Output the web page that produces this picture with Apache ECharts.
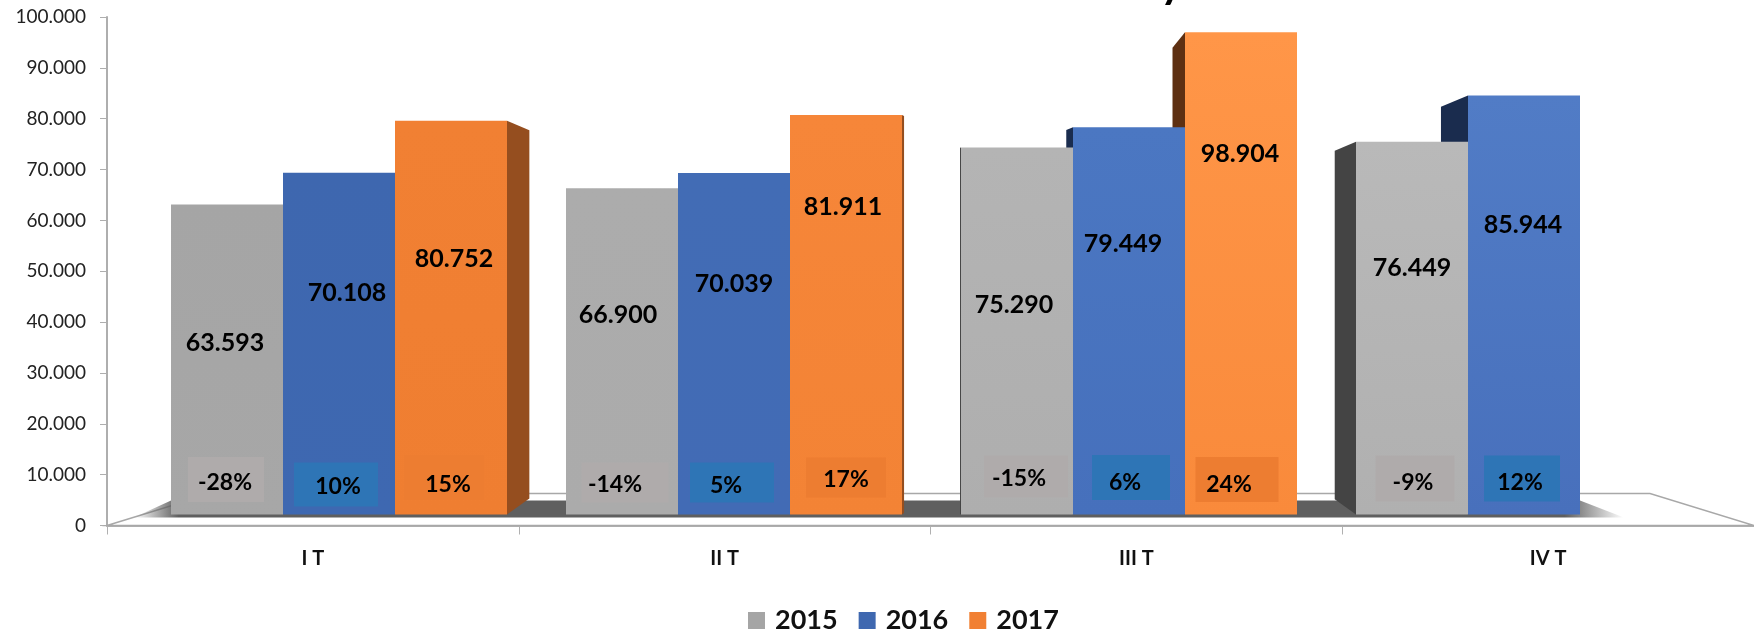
<!DOCTYPE html>
<html>
<head>
<meta charset="utf-8">
<title>Chart</title>
<style>
    html, body { margin: 0; padding: 0; background: #fff; }
    #chart { width: 1754px; height: 638px; }
</style>
<script src="https://cdn.jsdelivr.net/npm/echarts@6/dist/echarts.min.js"></script>
</head>
<body>
<div id="chart"></div>
<script>
var quarters = ['I T', 'II T', 'III T', 'IV T'];
var years = ['2015', '2016', '2017'];
var values2015 = [63593, 66900, 75290, 76449];
var values2016 = [70108, 70039, 79449, 85944];
var values2017 = [80752, 81911, 98904, null];
var pct2015 = ['-28%', '-14%', '-15%', '-9%'];
var pct2016 = ['10%', '5%', '6%', '12%'];
var pct2017 = ['15%', '17%', '24%', null];
var yTicks = { min: 0, max: 100000, step: 10000 };

//colori: ogni trimestre e' un po' piu' chiaro del precedente
var legendColors = ['#A5A5A5', '#3F68B0', '#F18033'];
var topColors = [
    ['#A5A5A5', '#ACACAC', '#B4B4B4', '#B9B9B9'],
    ['#3E67AF', '#426CB5', '#4B77C2', '#517CC6'],
    ['#F18033', '#F68639', '#FF9648']
];
var bottomColors = [
    ['#A7A7A7', '#ABABAB', '#AEAEAE', '#B0B0B0'],
    ['#3E68B1', '#426BB5', '#4670BC', '#4870BC'],
    ['#EF7E31', '#F38335', '#F98A3B']
];
var leftSideColors = ['#444444', '#1A2C4E', '#5E3012'];
var rightSideColors = ['#6B6B6B', '#2A4478', '#954E1F'];
var boxColors = ['#AFABAB', '#2E75B6', '#ED7D31'];

//spostamento delle etichette rispetto al centro della barra [x, y]
var valueShift = [
    [[-2, -17], [-4, -37], [-3, -26], [0, -60]],
    [[8, -51], [0, -60], [-6, -77], [-1, -80]],
    [[3, -59], [-3, -108], [-1, -119]]
];
//riquadri percentuali [cx, alzo, larghezza, altezza, testo x, testo alzo]
var pctBoxes = [
    [[-1, 35, 76, 45, -2, 32], [3, 32, 87, 40, -7, 30], [9, 38, 84, 42, 2, 36], [3, 36, 79, 46, 1, 32]],
    [[-3, 30, 84, 44, -1, 28], [-2, 32, 84, 40, -8, 29], [2, 37, 78, 45, -4, 32], [-2, 36, 76, 46, -4, 32]],
    [[-7, 37, 80, 45, -3, 30], [0, 37, 80, 40, 0, 35], [-4, 35, 83, 45, -12, 30]]
];

var fontName = 'Lato';
var barWidth = 112;
var vanishX = 942; //punto di fuga delle facce laterali
var depth = 0.0514;

function formatThousands(v) {
    return String(v).replace(/\B(?=(\d{3})+$)/g, '.');
}

function barSeries(idx, values) {
    return {
        name: years[idx],
        type: 'bar',
        xAxisIndex: 1,
        yAxisIndex: 1,
        barWidth: barWidth,
        barGap: 0,
        z: 4,
        itemStyle: { color: legendColors[idx] },
        data: values.map(function(v, i) {
            return {
                value: v,
                itemStyle: {
                    color: new echarts.graphic.LinearGradient(0, 0, 0, 1, [
                        { offset: 0, color: topColors[idx][i] },
                        { offset: 1, color: bottomColors[idx][i] }
                    ])
                },
                label: { offset: valueShift[idx][i] || [0, 0] }
            };
        }),
        label: {
            show: true,
            position: 'inside',
            color: '#000',
            fontFamily: fontName,
            fontWeight: 'bold',
            fontSize: 25,
            formatter: function(p) {
                return formatThousands(p.value);
            }
        }
    };
}

//piano di appoggio con la sua ombra
function renderFloor(params, api) {
    var c = params.coordSys;
    var left = c.x, right = c.x + c.width, bottom = c.y + c.height;
    var back = bottom - 32;
    return {
        type: 'group',
        children: [{
            type: 'polygon',
            shape: { points: [[left, bottom], [left + 104, back], [right - 104, back], [right, bottom]] },
            style: { fill: '#fff', stroke: '#A8A8A8', lineWidth: 1.5 }
        }, {
            type: 'polygon',
            shape: { points: [[left + 27, bottom - 8], [left + 64, back + 7], [right - 174, back + 7], [right - 130, bottom - 8]] },
            style: {
                fill: new echarts.graphic.LinearGradient(0, 0, 1, 0, [
                    { offset: 0, color: 'rgba(95,95,95,0)' },
                    { offset: 0.03, color: '#5F5F5F' },
                    { offset: 0.96, color: '#5F5F5F' },
                    { offset: 1, color: 'rgba(95,95,95,0)' }
                ])
            }
        }]
    };
}

//facce laterali in prospettiva
function renderSide(params, api) {
    var cat = api.value(0), val = api.value(1), s = api.value(2);
    var top = api.coord([cat, val]);
    var base = api.coord([cat, 0]);
    var center = top[0] + (s - 1) * barWidth;
    var isRight = center < vanishX;
    var x0 = center + (isRight ? 0.5 : -0.5) * barWidth;
    var dx = depth * (vanishX - x0);
    var adx = Math.abs(dx);
    //la barra piu' alta ha la faccia piu' inclinata
    var topRatio = top[1] < 60 ? 1.25 : 0.42;
    return {
        type: 'polygon',
        shape: { points: [
            [x0, top[1]],
            [x0 + dx, top[1] + adx * topRatio],
            [x0 + dx, base[1] - adx * 0.72],
            [x0, base[1]]
        ] },
        style: { fill: isRight ? rightSideColors[s] : leftSideColors[s] }
    };
}

//riquadri con la variazione percentuale
function renderPct(params, api) {
    var cat = api.value(0), s = api.value(1);
    var base = api.coord([cat, 0]);
    var center = base[0] + (s - 1) * barWidth;
    var b = pctBoxes[s][cat];
    var text = [pct2015, pct2016, pct2017][s][cat];
    return {
        type: 'group',
        children: [{
            type: 'rect',
            shape: { x: center + b[0] - b[2] / 2, y: base[1] - b[1] - b[3] / 2, width: b[2], height: b[3] },
            style: { fill: boxColors[s] }
        }, {
            type: 'text',
            style: {
                x: center + b[4],
                y: base[1] - b[5],
                text: text,
                align: 'center',
                verticalAlign: 'middle',
                fill: '#000',
                font: 'bold 23px ' + fontName
            }
        }]
    };
}

var sideData = [], pctData = [];
[values2015, values2016, values2017].forEach(function(list, s) {
    list.forEach(function(v, i) {
        if (v !== null) {
            sideData.push([i, v, s]);
            pctData.push([i, s]);
        }
    });
});

var myChart = echarts.init(document.getElementById('chart'), null, { renderer: 'canvas' });

var option = {
    animation: false,
    backgroundColor: '#fff',
    textStyle: { fontFamily: fontName },
    title: {
        text: 'y',
        left: 1160,
        top: -38,
        padding: 0,
        textStyle: { fontFamily: fontName, fontWeight: 'bold', fontSize: 44, color: '#000' }
    },
    legend: {
        left: 748,
        top: 607,
        padding: 0,
        itemWidth: 17,
        itemHeight: 17,
        itemGap: 21,
        icon: 'rect',
        selectedMode: false,
        data: years,
        textStyle: { fontFamily: fontName, fontWeight: 'bold', fontSize: 27, color: '#111', padding: [0, 0, 0, 5] }
    },
    grid: [
        { left: 107, top: 17, width: 1647, height: 508.5 },
        { left: 141.5, top: 26.9, width: 1580, height: 487.7 }
    ],
    xAxis: [{
        type: 'category',
        gridIndex: 0,
        data: quarters,
        axisLine: { lineStyle: { color: '#B0B0B0', width: 2 } },
        axisTick: { show: true, length: 9, lineStyle: { color: '#B0B0B0', width: 1 } },
        axisLabel: { margin: 23, color: '#111', fontFamily: fontName, fontWeight: 'bold', fontSize: 20 }
    }, {
        type: 'category',
        gridIndex: 1,
        data: quarters,
        show: false
    }],
    yAxis: [{
        type: 'value',
        gridIndex: 0,
        min: yTicks.min,
        max: yTicks.max,
        interval: yTicks.step,
        splitLine: { show: false },
        axisLine: { show: true, lineStyle: { color: '#AEAEAE', width: 2 } },
        axisTick: { show: true, length: 7, lineStyle: { color: '#AEAEAE', width: 1 } },
        axisLabel: {
            margin: 21,
            color: '#222',
            fontFamily: fontName,
            fontSize: 19,
            formatter: formatThousands
        }
    }, {
        type: 'value',
        gridIndex: 1,
        min: yTicks.min,
        max: yTicks.max,
        interval: yTicks.step,
        show: false
    }],
    series: [{
        type: 'custom',
        name: 'floor',
        xAxisIndex: 0,
        yAxisIndex: 0,
        z: 1,
        silent: true,
        renderItem: renderFloor,
        data: [[0, 0]]
    }, {
        type: 'custom',
        name: 'sides',
        xAxisIndex: 1,
        yAxisIndex: 1,
        z: 2,
        silent: true,
        renderItem: renderSide,
        encode: { x: 0, y: 1 },
        data: sideData
    },
    barSeries(0, values2015),
    barSeries(1, values2016),
    barSeries(2, values2017),
    {
        type: 'custom',
        name: 'pct',
        xAxisIndex: 1,
        yAxisIndex: 1,
        z: 5,
        silent: true,
        renderItem: renderPct,
        encode: { x: 0 },
        data: pctData
    }]
};
myChart.setOption(option);
</script>
</body>
</html>
